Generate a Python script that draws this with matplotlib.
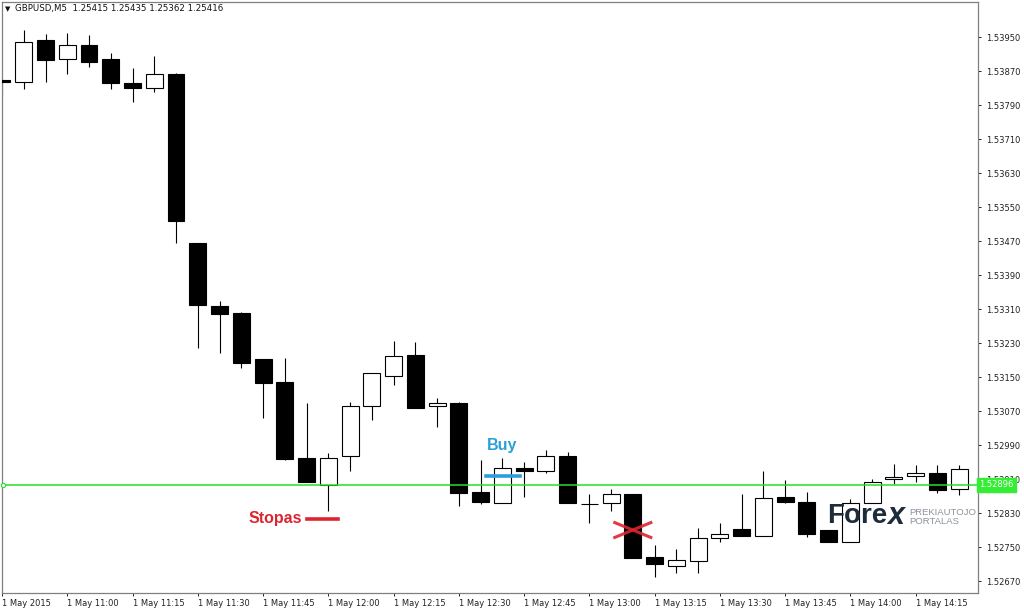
import numpy as np
import matplotlib
matplotlib.use("Agg")
from matplotlib import pyplot as plt

# GBPUSD M5 candles, 1 May 2015 10:45 .. 14:25
opens = [1.53849, 1.53844, 1.53943, 1.53898, 1.53931, 1.53898, 1.53842, 1.53830, 1.53863, 1.53465,
         1.53317, 1.53301, 1.53192, 1.53138, 1.52959, 1.52896, 1.52964, 1.53082, 1.53152, 1.53202,
         1.53082, 1.53089, 1.52879, 1.52853, 1.52936, 1.52929, 1.52964, 1.52851, 1.52853, 1.52875,
         1.52726, 1.52705, 1.52717, 1.52771, 1.52792, 1.52776, 1.52868, 1.52856, 1.52790, 1.52762,
         1.52853, 1.52910, 1.52917, 1.52924, 1.52886]
highs = [1.53851, 1.53966, 1.53957, 1.53959, 1.53955, 1.53912, 1.53877, 1.53905, 1.53865, 1.53465,
         1.53329, 1.53303, 1.53192, 1.53195, 1.53089, 1.52971, 1.53091, 1.53159, 1.53235, 1.53232,
         1.53101, 1.53091, 1.52955, 1.52959, 1.52950, 1.52978, 1.52974, 1.52875, 1.52886, 1.52875,
         1.52755, 1.52745, 1.52795, 1.52806, 1.52875, 1.52929, 1.52908, 1.52879, 1.52790, 1.52863,
         1.52910, 1.52945, 1.52943, 1.52943, 1.52943]
lows = [1.53814, 1.53828, 1.53844, 1.53863, 1.53879, 1.53828, 1.53797, 1.53821, 1.53465, 1.53218,
        1.53206, 1.53171, 1.53053, 1.52955, 1.52903, 1.52835, 1.52929, 1.53049, 1.53131, 1.53077,
        1.53032, 1.52846, 1.52851, 1.52853, 1.52868, 1.52924, 1.52853, 1.52806, 1.52835, 1.52724,
        1.52679, 1.52689, 1.52689, 1.52762, 1.52776, 1.52776, 1.52853, 1.52774, 1.52762, 1.52762,
        1.52853, 1.52898, 1.52903, 1.52877, 1.52872]
closes = [1.53844, 1.53938, 1.53896, 1.53931, 1.53891, 1.53842, 1.53830, 1.53863, 1.53517, 1.53319,
          1.53298, 1.53183, 1.53136, 1.52957, 1.52903, 1.52959, 1.53082, 1.53159, 1.53199, 1.53077,
          1.53089, 1.52877, 1.52856, 1.52936, 1.52929, 1.52964, 1.52853, 1.52851, 1.52875, 1.52724,
          1.52710, 1.52719, 1.52771, 1.52781, 1.52776, 1.52865, 1.52856, 1.52781, 1.52762, 1.52853,
          1.52903, 1.52915, 1.52924, 1.52884, 1.52934]

price_ticks = [1.52670, 1.52750, 1.52830, 1.52910, 1.52990, 1.53070, 1.53150, 1.53230, 1.53310,
               1.53390, 1.53470, 1.53550, 1.53630, 1.53710, 1.53790, 1.53870, 1.53950]
time_tick_pos = [0, 3, 6, 9, 12, 15, 18, 21, 24, 27, 30, 33, 36, 39, 42]
time_tick_labels = ["1 May 2015", "1 May 11:00", "1 May 11:15", "1 May 11:30", "1 May 11:45",
                    "1 May 12:00", "1 May 12:15", "1 May 12:30", "1 May 12:45", "1 May 13:00",
                    "1 May 13:15", "1 May 13:30", "1 May 13:45", "1 May 14:00", "1 May 14:15"]
bid_price = 1.52896
header = "GBPUSD,M5  1.25415 1.25435 1.25362 1.25416"

# trade annotations: (candle index, price)
stop_price, stop_x = 1.52816, (14.0, 15.45)
buy_price, buy_x = 1.52917, (22.25, 23.8)
buy_label = (23.0, 1.52990)
cross_center = (29.0, 1.52790)

plt.rcParams['font.family'] = ['DejaVu Sans']

fig = plt.figure(figsize=(10.24, 6.12), dpi=100)
ax = fig.add_axes([2 / 1024, 1 - 593 / 612, 976 / 1024, 591 / 612])

o = np.array(opens)
c = np.array(closes)
x = np.arange(len(o))
bottoms = np.minimum(o, c)
heights = np.abs(c - o)
faces = np.where(c < o, "black", "white")

ax.vlines(x, lows, highs, color="black", linewidth=0.8, zorder=2)
ax.bar(x, heights, bottom=bottoms, width=0.78, color=faces, edgecolor="black",
       linewidth=0.8, zorder=3)

# bid line
green = "#26e026"
ax.axhline(bid_price, color=green, linewidth=1.1, zorder=4)
ax.plot([0.05], [bid_price], marker="o", markersize=3, mfc="white", mec=green,
        mew=0.8, zorder=5, clip_on=False)

# annotations
red = "#dd2530"
blue = "#2b9fd9"
ax.plot(stop_x, [stop_price, stop_price], color=red, linewidth=2.6, zorder=6)
ax.text(stop_x[0] - 0.2, stop_price, "Stopas", color=red, fontsize=11.5,
        fontweight="bold", family="Liberation Sans", ha="right", va="center", zorder=6)
ax.plot(buy_x, [buy_price, buy_price], color=blue, linewidth=2.6, zorder=6)
ax.text(buy_label[0], buy_label[1], "Buy", color=blue, fontsize=11.5, fontweight="bold",
        family="Liberation Sans", ha="center", va="center", zorder=6)
cx, cy = cross_center
dx, dy = 0.83, 0.000175
ax.plot([cx - dx, cx + dx], [cy + dy, cy - dy], color=red, linewidth=2.2, alpha=0.9, zorder=6)
ax.plot([cx - dx, cx + dx], [cy - dy, cy + dy], color=red, linewidth=2.2, alpha=0.9, zorder=6)

# watermark
ax.text(37.95, 1.52822, "Fore", color="#1e2b3a", fontsize=20, fontweight="bold",
        family="Liberation Sans", ha="left", va="center", zorder=7)
ax.text(40.7, 1.52822, "x", color="#1e2b3a", fontsize=22, fontweight="bold",
        family="Liberation Sans", ha="left", va="center", zorder=7, style="italic")
ax.text(41.7, 1.52832, "PREKIAUTOJO", color="#8c939c", fontsize=6.8,
        family="Liberation Sans", ha="left", va="center", zorder=7)
ax.text(41.7, 1.52810, "PORTALAS", color="#8c939c", fontsize=6.8,
        family="Liberation Sans", ha="left", va="center", zorder=7)

ax.set_xlim(0, 44.87)
ax.set_ylim(1.526418, 1.540324)

ax.yaxis.tick_right()
ax.set_yticks(price_ticks)
ax.set_yticklabels([f"{p:.5f}" for p in price_ticks])
ax.set_xticks(time_tick_pos)
ax.set_xticklabels(time_tick_labels, ha="left")
ax.tick_params(axis="both", labelsize=6, colors="#222222", length=2.5, width=0.7,
               direction="out")
ax.tick_params(axis="x", pad=2)
ax.tick_params(axis="y", pad=3)
for s in ax.spines.values():
    s.set_color("#808080")
    s.set_linewidth(0.9)

# bid label on price axis
ax.text(1.0015, bid_price, "1.52896", transform=ax.get_yaxis_transform(), fontsize=6,
        color="white", ha="left", va="center", zorder=8, clip_on=False,
        bbox=dict(boxstyle="square,pad=0.25", fc="#33ee33", ec="#33ee33"))

fig.text(5 / 1024, 1 - 9 / 612, "\u25BC", fontsize=5, va="center", ha="left", color="#111111")
fig.text(15 / 1024, 1 - 9 / 612, header, fontsize=6.2, va="center", ha="left", color="#111111")

fig.savefig("out.png", dpi=100, facecolor="white")
